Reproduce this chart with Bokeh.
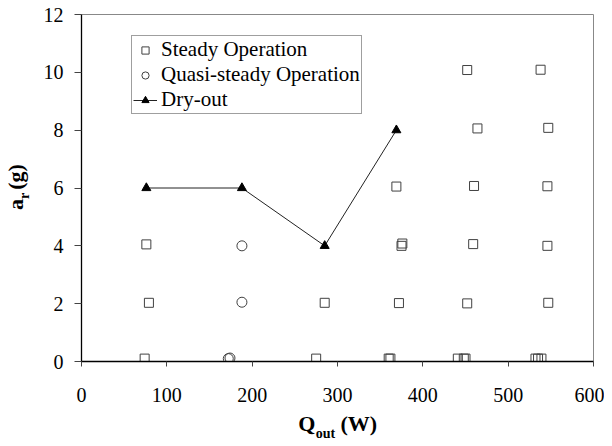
from bokeh.plotting import figure
from bokeh.models import Legend, LegendItem, FixedTicker, Range1d, LinearAxis
from bokeh.embed import file_html
from bokeh.resources import INLINE

# ---- data ----
steady_x = [74, 275, 360, 362, 441, 448, 450, 532, 535, 539,
            79, 285, 372, 452, 547,
            76, 375, 376, 459, 546,
            369, 460, 546,
            464, 547,
            452, 538]
steady_y = [0.1, 0.1, 0.1, 0.1, 0.1, 0.1, 0.1, 0.1, 0.1, 0.1,
            2.03, 2.03, 2.02, 2.01, 2.03,
            4.05, 4.0, 4.08, 4.06, 4.0,
            6.05, 6.07, 6.06,
            8.06, 8.08,
            10.08, 10.09]
quasi_x = [172, 174, 188, 188]
quasi_y = [0.1, 0.12, 2.05, 4.0]
dry_x = [76, 188, 285, 369]
dry_y = [6, 6, 4, 8]
x_ticks = [0, 100, 200, 300, 400, 500, 600]
y_ticks = [0, 2, 4, 6, 8, 10, 12]
legend_labels = ["Steady Operation", "Quasi-steady Operation", "Dry-out"]
# axis titles split into main text / subscript pieces
x_title_main = {264: "Q", 325: "(W)"}
x_title_sub = {286: "out"}
y_title_main = {543: "a", 638: "(g)"}   # positions on a 0..1200 helper scale
y_title_sub = {573: "r"}

SERIF = "Liberation Serif"

p = figure(width=604, height=446,
           x_range=Range1d(0, 600), y_range=Range1d(0, 12),
           output_backend="svg", toolbar_location=None,
           min_border_left=81, min_border_right=11,
           min_border_top=14, min_border_bottom=85)
p.extra_y_ranges = {"lab": Range1d(0, 1200)}

p.xgrid.visible = False
p.ygrid.visible = False
p.outline_line_color = "#888888"
p.outline_line_width = 1
p.background_fill_color = "white"
p.border_fill_color = "white"

for ax, ticks, out, standoff in ((p.xaxis[0], x_ticks, 5, 21), (p.yaxis[0], y_ticks, 7, 11)):
    ax.ticker = FixedTicker(ticks=ticks)
    ax.major_tick_in = 0
    ax.major_tick_out = out
    ax.minor_tick_in = 0
    ax.minor_tick_out = 0
    ax.axis_line_color = "black"
    ax.axis_line_width = 1.3
    ax.major_tick_line_color = "#444444"
    ax.major_label_text_font = SERIF
    ax.major_label_text_font_size = "20px"
    ax.major_label_text_color = "black"
    ax.major_label_standoff = standoff

def title_axis(side, pieces, size, standoff, vertical=False):
    kw = {}
    if vertical:
        kw["y_range_name"] = "lab"
    ax = LinearAxis(ticker=FixedTicker(ticks=list(pieces.keys())), **kw)
    overrides = {}
    for k, v in pieces.items():
        overrides[k] = v
        overrides[str(k)] = v
    ax.major_label_overrides = overrides
    ax.axis_line_color = None
    ax.major_tick_line_color = None
    ax.minor_tick_line_color = None
    ax.major_tick_in = 0
    ax.major_tick_out = 0
    ax.minor_tick_in = 0
    ax.minor_tick_out = 0
    ax.major_label_standoff = standoff
    ax.major_label_text_font = SERIF
    ax.major_label_text_font_style = "bold"
    ax.major_label_text_font_size = size
    ax.major_label_text_color = "black"
    if vertical:
        ax.major_label_orientation = "vertical"
    p.add_layout(ax, side)

title_axis("below", x_title_main, "22px", 6)
title_axis("below", x_title_sub, "14px", -13)
title_axis("left", y_title_sub, "14px", 8, vertical=True)
title_axis("left", y_title_main, "22px", -14, vertical=True)

sq = p.scatter(steady_x, steady_y, marker="square", size=9,
               fill_color=None, line_color="#404040", line_width=1)
ci = p.scatter(quasi_x, quasi_y, marker="circle", size=10,
               fill_color=None, line_color="#404040", line_width=1)
ln = p.line(dry_x, dry_y, line_color="#222222", line_width=1)
tr = p.scatter(dry_x, dry_y, marker="triangle", size=9,
               fill_color="black", line_color="black")

legend = Legend(items=[
    LegendItem(label=legend_labels[0], renderers=[sq]),
    LegendItem(label=legend_labels[1], renderers=[ci]),
    LegendItem(label=legend_labels[2], renderers=[ln, tr]),
], location=(50, 247))
legend.label_text_font = SERIF
legend.label_text_font_size = "21px"
legend.label_text_color = "black"
legend.border_line_color = "#404040"
legend.border_line_width = 1
legend.background_fill_color = "white"
legend.background_fill_alpha = 1
legend.padding = 1
legend.margin = 0
legend.spacing = 0
legend.glyph_width = 24
legend.glyph_height = 18
legend.label_height = 18
legend.label_standoff = 4
p.add_layout(legend)

open("out.html", "w").write(file_html(p, INLINE))
